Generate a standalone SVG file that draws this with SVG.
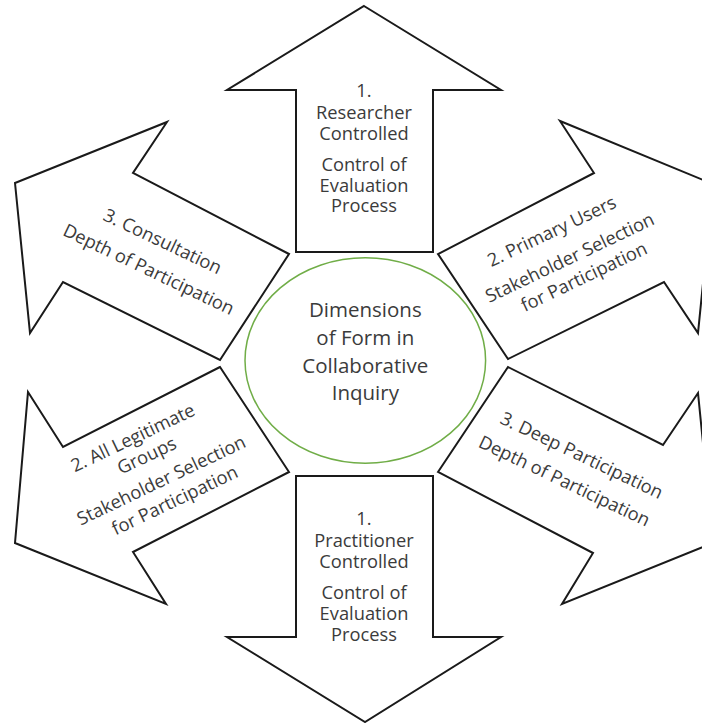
<svg xmlns="http://www.w3.org/2000/svg" width="702" height="723" viewBox="0 0 702 723">
<style>
.arrow{fill:#ffffff;stroke:#1a1a1a;stroke-width:2;stroke-linejoin:miter}
.lbl{font-family:"Open Sans","Noto Sans","Liberation Sans",sans-serif;font-size:18.3px;fill:#3b3b3b;text-anchor:middle}
.ctr{font-family:"Open Sans","Noto Sans","Liberation Sans",sans-serif;font-size:20.5px;fill:#3b3b3b;text-anchor:middle}
</style>
<rect width="702" height="723" fill="#ffffff"/>
<g id="arrow-top">
<polygon class="arrow" points="364,6 501,90 433,90 433,252 296,252 296,90 227,90"/>
<text class="lbl" x="364" y="97">1.</text>
<text class="lbl" x="364" y="118.5">Researcher</text>
<text class="lbl" x="364" y="139.5">Controlled</text>
<text class="lbl" x="364" y="170.5">Control of</text>
<text class="lbl" x="364" y="191.5">Evaluation</text>
<text class="lbl" x="364" y="212">Process</text>
</g>
<g id="arrow-bottom">
<polygon class="arrow" points="296,476 433,476 433,637 501,637 365,722 227,637 296,637"/>
<text class="lbl" x="364" y="525">1.</text>
<text class="lbl" x="364" y="546.5">Practitioner</text>
<text class="lbl" x="364" y="567.5">Controlled</text>
<text class="lbl" x="364" y="599">Control of</text>
<text class="lbl" x="364" y="620">Evaluation</text>
<text class="lbl" x="364" y="641">Process</text>
</g>
<g id="arrow-upper-left">
<polygon class="arrow" points="15,183 167,122 133,173 289,254 220,360 63,282 30,333"/>
<text class="lbl" transform="translate(160,247) rotate(25.5)">3. Consultation</text>
<text class="lbl" transform="translate(146,275) rotate(25.5)">Depth of Participation</text>
</g>
<g id="arrow-upper-right">
<polygon class="arrow" points="713,184 560,121 594,173 438,254 508,359 664,282 698,333"/>
<text class="lbl" transform="translate(554.5,237) rotate(-25.5)">2. Primary Users</text>
<text class="lbl" transform="translate(572.5,263.3) rotate(-25.5)">Stakeholder Selection</text>
<text class="lbl" transform="translate(586.7,282.5) rotate(-25.5)">for Participation</text>
</g>
<g id="arrow-lower-left">
<polygon class="arrow" points="220,367 63,447 28,392 15,543 166,604 133,552 289,472"/>
<text class="lbl" transform="translate(135.5,443.5) rotate(-25.5)">2. All Legitimate</text>
<text class="lbl" transform="translate(149.5,461.3) rotate(-25.5)">Groups</text>
<text class="lbl" transform="translate(164,486) rotate(-25.5)">Stakeholder Selection</text>
<text class="lbl" transform="translate(177.5,506) rotate(-25.5)">for Participation</text>
</g>
<g id="arrow-lower-right">
<polygon class="arrow" points="438,472 508,367 663,445 698,393 713,543 562,604 593,553"/>
<text class="lbl" transform="translate(579,461) rotate(25.5)">3. Deep Participation</text>
<text class="lbl" transform="translate(561.7,486.7) rotate(25.5)">Depth of Participation</text>
</g>
<g id="center">
<ellipse cx="365.3" cy="360.5" rx="120.3" ry="102.8" fill="none" stroke="#70AD47" stroke-width="1.5"/>
<text class="ctr" x="365.3" y="316.7">Dimensions</text>
<text class="ctr" x="365.3" y="345">of Form in</text>
<text class="ctr" x="365.3" y="373.3">Collaborative</text>
<text class="ctr" x="365.3" y="400">Inquiry</text>
</g>
<g id="connectors"></g>
</svg>
